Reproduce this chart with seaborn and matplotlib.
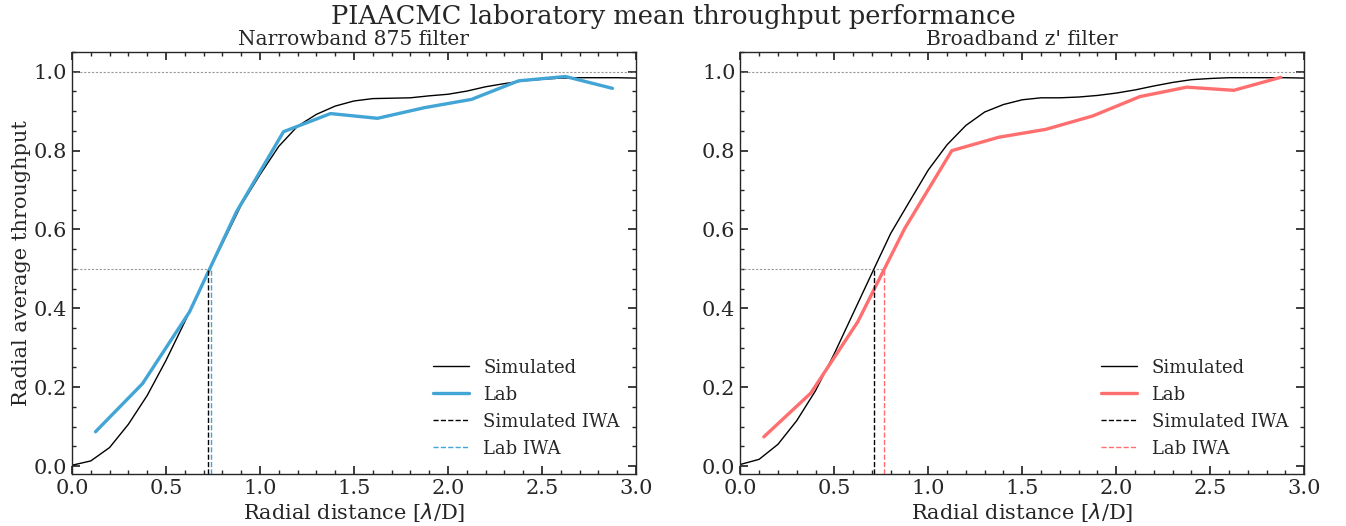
import numpy as np
import pandas as pd
import seaborn as sns
import matplotlib
matplotlib.use("Agg")
import matplotlib.pyplot as plt

# Simulated radial throughput (lambda/D steps of 0.1)
sim_r = [0.0, 0.1, 0.2, 0.3, 0.4, 0.5, 0.6, 0.7, 0.8, 0.9, 1.0,
         1.1, 1.2, 1.3, 1.4, 1.5, 1.6, 1.7, 1.8, 1.9, 2.0,
         2.1, 2.2, 2.3, 2.4, 2.5, 2.6, 2.7, 2.8, 2.9, 3.0]
sim_narrow = [0.002, 0.013, 0.047, 0.106, 0.179, 0.268, 0.366, 0.468, 0.564, 0.662, 0.739,
              0.811, 0.862, 0.892, 0.913, 0.926, 0.932, 0.933, 0.934, 0.939, 0.943,
              0.951, 0.962, 0.970, 0.977, 0.981, 0.984, 0.985, 0.985, 0.985, 0.984]
sim_broad = [0.004, 0.017, 0.055, 0.115, 0.191, 0.285, 0.387, 0.489, 0.590, 0.671, 0.751,
             0.815, 0.864, 0.898, 0.917, 0.929, 0.934, 0.934, 0.936, 0.940, 0.946,
             0.954, 0.964, 0.973, 0.980, 0.983, 0.985, 0.985, 0.985, 0.985, 0.984]

# Lab measurements (annuli centres)
lab_r = [0.125, 0.375, 0.625, 0.875, 1.125, 1.375, 1.625, 1.875, 2.125, 2.375, 2.625, 2.875]
lab_narrow = [0.087, 0.209, 0.391, 0.645, 0.848, 0.894, 0.882, 0.909, 0.930, 0.977, 0.988, 0.958]
lab_broad = [0.074, 0.185, 0.366, 0.603, 0.800, 0.834, 0.854, 0.888, 0.937, 0.961, 0.953, 0.986]

# Inner working angles (50% throughput)
iwa_sim = [0.723, 0.712]
iwa_lab = [0.737, 0.763]

titles = ["Narrowband 875 filter", "Broadband z' filter"]
lab_colors = ["#42a5d5", "#ff6f6f"]

sns.set_theme(style="ticks", font="DejaVu Serif")
plt.rcParams["font.family"] = ["DejaVu Serif"]
plt.rcParams.update({
    "xtick.direction": "in", "ytick.direction": "in",
    "xtick.top": True, "ytick.right": True,
    "xtick.minor.visible": True, "ytick.minor.visible": True,
    "xtick.major.size": 6, "ytick.major.size": 6,
    "xtick.minor.size": 3, "ytick.minor.size": 3,
    "xtick.labelsize": 15, "ytick.labelsize": 15,
    "axes.labelsize": 15, "axes.titlesize": 14.5,
    "axes.linewidth": 1.0,
})

fig, axes = plt.subplots(1, 2, figsize=(13.46, 5.26), dpi=100)
fig.subplots_adjust(left=0.0535, right=0.969, bottom=0.099, top=0.901, wspace=0.185)

sims = [sim_narrow, sim_broad]
labs = [lab_narrow, lab_broad]

for i, ax in enumerate(axes):
    sim_df = pd.DataFrame({"r": sim_r, "t": sims[i]})
    lab_df = pd.DataFrame({"r": lab_r, "t": labs[i]})
    ax.axhline(1.0, color="gray", ls="--", lw=0.8, alpha=0.8, dashes=(2, 1.5))
    ax.plot([0, iwa_lab[i]], [0.5, 0.5], color="gray", ls="--", lw=0.8, alpha=0.8, dashes=(2, 1.5))
    sns.lineplot(data=sim_df, x="r", y="t", ax=ax, color="black", lw=1.0, label="Simulated")
    sns.lineplot(data=lab_df, x="r", y="t", ax=ax, color=lab_colors[i], lw=2.4, label="Lab")
    ax.vlines(iwa_sim[i], -0.02, 0.5, color="black", ls="--", lw=1.0, label="Simulated IWA")
    ax.vlines(iwa_lab[i], -0.02, 0.5, color=lab_colors[i], ls="--", lw=1.0, label="Lab IWA")
    ax.set_xlim(0, 3.0)
    ax.set_ylim(-0.02, 1.05)
    ax.set_xlabel(r"Radial distance [$\lambda$/D]", labelpad=2)
    ax.set_ylabel("Radial average throughput" if i == 0 else "", labelpad=2)
    ax.set_title(titles[i], pad=5)
    ax.legend(loc="lower right", frameon=False, fontsize=13, bbox_to_anchor=(1.0, 0.0))

fig.suptitle("PIAACMC laboratory mean throughput performance", fontsize=18.5, y=0.993)
fig.savefig("out.png", dpi=100)
